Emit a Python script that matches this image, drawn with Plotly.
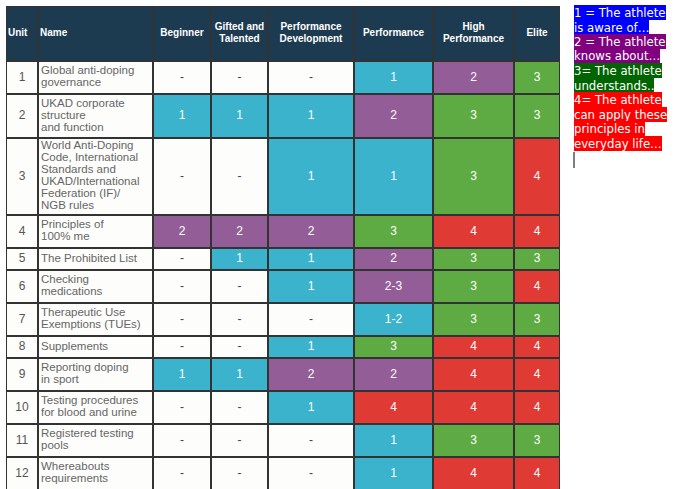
import plotly.graph_objects as go

# table content
headers = ["Unit", "Name", "Beginner", "Gifted and<br>Talented", "Performance<br>Development",
           "Performance", "High<br>Performance", "Elite"]
units = ["1", "2", "3", "4", "5", "6", "7", "8", "9", "10", "11", "12"]
names = [
    "Global anti-doping<br>governance",
    "UKAD corporate<br>structure<br>and function",
    "World Anti-Doping<br>Code, International<br>Standards and<br>UKAD/International<br>Federation (IF)/<br>NGB rules",
    "Principles of<br>100% me",
    "The Prohibited List",
    "Checking<br>medications",
    "Therapeutic Use<br>Exemptions (TUEs)",
    "Supplements",
    "Reporting doping<br>in sport",
    "Testing procedures<br>for blood and urine",
    "Registered testing<br>pools",
    "Whereabouts<br>requirements",
]
beginner = ["-", "1", "-", "2", "-", "-", "-", "-", "1", "-", "-", "-"]
gifted = ["-", "1", "-", "2", "1", "-", "-", "-", "1", "-", "-", "-"]
perf_dev = ["-", "1", "1", "2", "1", "1", "-", "1", "2", "1", "-", "-"]
performance = ["1", "2", "1", "3", "2", "2-3", "1-2", "3", "2", "4", "1", "1"]
high_perf = ["2", "3", "3", "4", "3", "3", "3", "4", "4", "4", "3", "4"]
elite = ["3", "3", "4", "4", "3", "4", "3", "4", "4", "4", "3", "4"]

key_lines = ["1 = The athlete", "is aware of…", "2 = The athlete", "knows about…",
             "3= The athlete", "understands..", "4= The athlete", "can apply these",
             "principles in", "everyday life…"]
key_levels = [1, 1, 2, 2, 3, 3, 4, 4, 4, 4]

# styling
col_widths = [32, 115, 58, 57, 86, 79, 81, 46]
LINE = 11          # px per row unit
SPACING = 12 / LINE  # text line spacing in row units
HEADER_UNITS = 5
level_colors = ["#fdfdfb", "#3bb3cd", "#935e98", "#5dab42", "#e03a35", "#1c3a50"]
key_colors = ["", "#0000ff", "#800080", "#006400", "#ff0000"]

levels = [beginner, gifted, perf_dev, performance, high_perf, elite]

# x edges from column widths
x_edges = [0]
for w in col_widths:
    x_edges.append(x_edges[-1] + w)
x_mid = [(a + b) / 2 for a, b in zip(x_edges[:-1], x_edges[1:])]

# row heights follow the number of lines in the name
row_units = [HEADER_UNITS] + [n.count("<br>") + 2 for n in names]
y_edges = [0]
for u in row_units:
    y_edges.append(y_edges[-1] + u)
y_mid = [(a + b) / 2 for a, b in zip(y_edges[:-1], y_edges[1:])]


def level_of(v):
    return 0 if v == "-" else int(v[0])


z = [[5] * len(headers)]
for i in range(len(names)):
    z.append([0, 0] + [level_of(col[i]) for col in levels])

colorscale = [[k / 5, c] for k, c in enumerate(level_colors)]

fig = go.Figure()
fig.add_trace(go.Heatmap(
    x=x_edges, y=y_edges, z=z, zmin=0, zmax=5, colorscale=colorscale,
    showscale=False, xgap=2, ygap=2, hoverinfo="skip"
))


def add_lines(text, xpos, ycenter, pos, size, color, family, spacing=SPACING):
    parts = text.split("<br>")
    n = len(parts)
    xs, ys = [], []
    for j in range(n):
        xs.append(xpos)
        ys.append(ycenter + (j - (n - 1) / 2) * spacing)
    fig.add_trace(go.Scatter(
        x=xs, y=ys, mode="text", text=parts, textposition=pos,
        textfont=dict(size=size, color=color, family=family),
        hoverinfo="skip", showlegend=False
    ))


HEAD_FONT = "Liberation Sans Narrow, Arial Narrow, Liberation Sans"
BODY_FONT = "Liberation Sans, Arial"

# header
for c, h in enumerate(headers):
    if c < 2:
        add_lines("<b>" + h + "</b>", x_edges[c] + 2, y_mid[0], "middle right", 10, "white", HEAD_FONT)
    else:
        add_lines("<br>".join("<b>" + p + "</b>" for p in h.split("<br>")),
                  x_mid[c], y_mid[0], "middle center", 10, "white", HEAD_FONT)

# body
for i in range(len(names)):
    yc = y_mid[i + 1]
    add_lines(units[i], x_mid[0], yc, "middle center", 12, "#555555", BODY_FONT)
    add_lines(names[i], x_edges[1] + 3, yc, "middle right", 11.5, "#666666", BODY_FONT)
    for c, col in enumerate(levels):
        v = col[i]
        add_lines(v, x_mid[c + 2], yc, "middle center", 12,
                  "#444444" if v == "-" else "white", BODY_FONT)

# key on the right, one highlighted annotation per line
plot_h = 483
for k, (txt, lvl) in enumerate(zip(key_lines, key_levels)):
    fig.add_annotation(
        x=(574 - 6) / x_edges[-1], y=1 - (-1 + 14.5 * k) / plot_h,
        xref="paper", yref="paper", xanchor="left", yanchor="top",
        text=txt, showarrow=False, bgcolor=key_colors[lvl],
        borderpad=0, borderwidth=0,
        font=dict(size=13, color="white", family="DejaVu Sans Condensed, DejaVu Sans")
    )

# text cursor left behind in the source page
fig.add_shape(type="line", xref="paper", yref="paper",
              x0=(574 - 6) / x_edges[-1], x1=(574 - 6) / x_edges[-1],
              y0=1 - (152 - 6) / plot_h, y1=1 - (168 - 6) / plot_h,
              line=dict(color="black", width=1))

fig.update_layout(
    width=687, height=489,
    margin=dict(l=6, r=687 - 6 - x_edges[-1], t=6, b=0),
    plot_bgcolor="#333333", paper_bgcolor="white",
    showlegend=False,
)
fig.update_xaxes(range=[0, x_edges[-1]], visible=False, fixedrange=True)
fig.update_yaxes(range=[plot_h / LINE, 0], visible=False, fixedrange=True)

# drop the default page margin so the figure sits at the window's corner
fig.write_html("out.html", config={"displayModeBar": False},
               post_script="document.body.style.margin='0px';")
